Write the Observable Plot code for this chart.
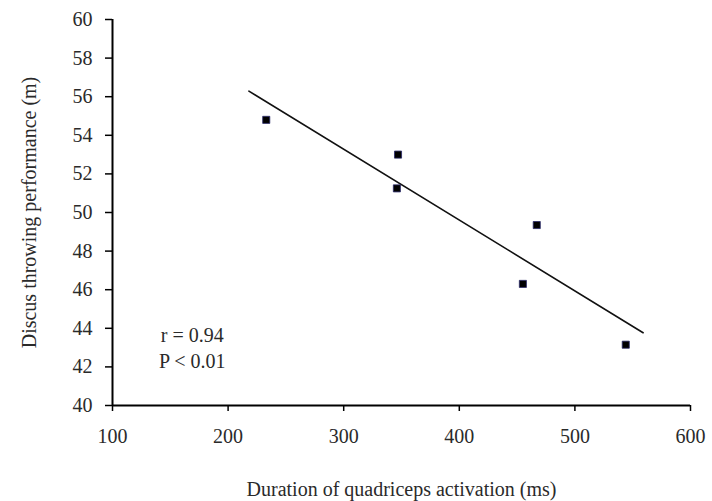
<!DOCTYPE html>
<html>
<head>
<meta charset="utf-8">
<script src="https://cdn.jsdelivr.net/npm/d3@7"></script>
<script src="https://cdn.jsdelivr.net/npm/@observablehq/plot@0.6"></script>
<style>
  html, body { margin: 0; padding: 0; background: #fff; }
  #chart svg, #chart svg text { font-family: "Liberation Serif", "DejaVu Serif", serif !important; }
</style>
</head>
<body>
<div id="chart"></div>
<script>
// Data
const durationMs = [233, 347, 346, 467, 455, 544];
const performanceM = [54.8, 53.0, 51.25, 49.35, 46.3, 43.15];
const fitX = [218, 559];
const fitY = [56.29, 43.77];
const xTicks = [100, 200, 300, 400, 500, 600];
const yTicks = [40, 42, 44, 46, 48, 50, 52, 54, 56, 58, 60];
const statLines = ["r = 0.94", "P < 0.01"];
const statX = [169, 169];
const statY = [43.6, 42.3];

const points = durationMs.map((x, i) => ({x, y: performanceM[i]}));
const fit = fitX.map((x, i) => ({x, y: fitY[i]}));
const stats = statLines.map((t, i) => ({t, x: statX[i], y: statY[i]}));

const chart = Plot.plot({
  width: 712,
  height: 501,
  marginLeft: 112,
  marginRight: 22,
  marginTop: 19,
  marginBottom: 96,
  style: {fontFamily: "Liberation Serif", fontSize: "20px", color: "#2a2a2a", background: "#fff"},
  x: {domain: [100, 600]},
  y: {domain: [40, 60]},
  marks: [
    Plot.axisX({ticks: xTicks, tickSize: 6, tickPadding: 17, tickFormat: d => d, stroke: "#000", strokeWidth: 1.5,
      label: "Duration of quadriceps activation (ms)", labelAnchor: "center", labelOffset: 90, labelArrow: "none", fontSize: 20}),
    Plot.axisY({ticks: yTicks, tickSize: 7, tickPadding: 13, tickFormat: d => d, stroke: "#000", strokeWidth: 1.5,
      label: "Discus throwing performance (m)", labelAnchor: "center", labelOffset: 91, labelArrow: "none", fontSize: 20}),
    Plot.ruleX([100], {stroke: "#000", strokeWidth: 2}),
    Plot.ruleY([40], {stroke: "#000", strokeWidth: 2}),
    Plot.line(fit, {x: "x", y: "y", stroke: "#111", strokeWidth: 1.6}),
    Plot.dot(points, {x: "x", y: "y", symbol: "square", r: 4, fill: "#000", stroke: "#2a2a6a", strokeWidth: 0.8}),
    Plot.text(stats, {x: "x", y: "y", text: "t", fontSize: 20, fill: "#2a2a2a"})
  ]
});
document.getElementById("chart").appendChild(chart);
</script>
</body>
</html>
